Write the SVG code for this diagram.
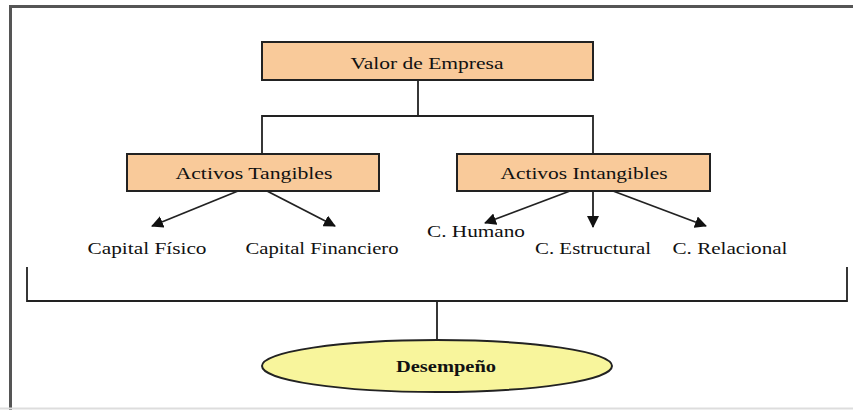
<svg xmlns="http://www.w3.org/2000/svg" width="853" height="410" viewBox="0 0 853 410">
<style>
.box{fill:#f9ca9a;stroke:#222;stroke-width:2}
.t{font-family:"Liberation Serif","DejaVu Serif",serif;font-size:16.5px;fill:#111;text-anchor:middle}
.ln{stroke:#222;stroke-width:1.8;fill:none}
</style>
<defs>
<marker id="ah" viewBox="0 0 12 12" refX="11" refY="6" markerWidth="12" markerHeight="12" markerUnits="userSpaceOnUse" orient="auto">
<path d="M0,0 L12,6 L0,12 z" fill="#111"/>
</marker>
</defs>
<rect x="0" y="0" width="853" height="410" fill="#fff"/>
<path d="M10.5,410 V6.5 H853" stroke="#555" stroke-width="3" fill="none"/>
<line x1="0" y1="408.5" x2="853" y2="408.5" stroke="#ddd" stroke-width="2"/>
<g id="connectors">
<path class="ln" d="M418,80 V116 M262,153 V116 H593 V153"/>
<line class="ln" x1="238" y1="191" x2="152" y2="226" marker-end="url(#ah)"/>
<line class="ln" x1="267" y1="191" x2="335" y2="226" marker-end="url(#ah)"/>
<line class="ln" x1="570" y1="191" x2="485" y2="223" marker-end="url(#ah)"/>
<line class="ln" x1="593" y1="191" x2="593" y2="227" marker-end="url(#ah)"/>
<line class="ln" x1="613" y1="191" x2="706" y2="226" marker-end="url(#ah)"/>
<path class="ln" d="M27,267 V301 H847 V267 M437,301 V340"/>
</g>
<g id="valor">
<rect class="box" x="262" y="42" width="331" height="38"/>
<text class="t" x="427" y="69" textLength="153" lengthAdjust="spacingAndGlyphs">Valor de Empresa</text>
</g>
<g id="tangibles">
<rect class="box" x="127" y="154" width="252" height="37"/>
<text class="t" x="254" y="179" textLength="157" lengthAdjust="spacingAndGlyphs">Activos Tangibles</text>
</g>
<g id="intangibles">
<rect class="box" x="457" y="154" width="253" height="37"/>
<text class="t" x="584" y="179" textLength="167" lengthAdjust="spacingAndGlyphs">Activos Intangibles</text>
</g>
<g id="fisico"><text class="t" x="147" y="254" textLength="119" lengthAdjust="spacingAndGlyphs">Capital Físico</text></g>
<g id="financiero"><text class="t" x="322" y="254" textLength="153" lengthAdjust="spacingAndGlyphs">Capital Financiero</text></g>
<g id="humano"><text class="t" x="476" y="237" textLength="98" lengthAdjust="spacingAndGlyphs">C. Humano</text></g>
<g id="estructural"><text class="t" x="593" y="254" textLength="116" lengthAdjust="spacingAndGlyphs">C. Estructural</text></g>
<g id="relacional"><text class="t" x="730" y="254" textLength="115" lengthAdjust="spacingAndGlyphs">C. Relacional</text></g>
<g id="desempeno">
<ellipse cx="437" cy="366" rx="175" ry="26" fill="#f8f59c" stroke="#222" stroke-width="2"/>
<text class="t" x="446" y="372" font-weight="bold" textLength="100" lengthAdjust="spacingAndGlyphs">Desempeño</text>
</g>
</svg>
